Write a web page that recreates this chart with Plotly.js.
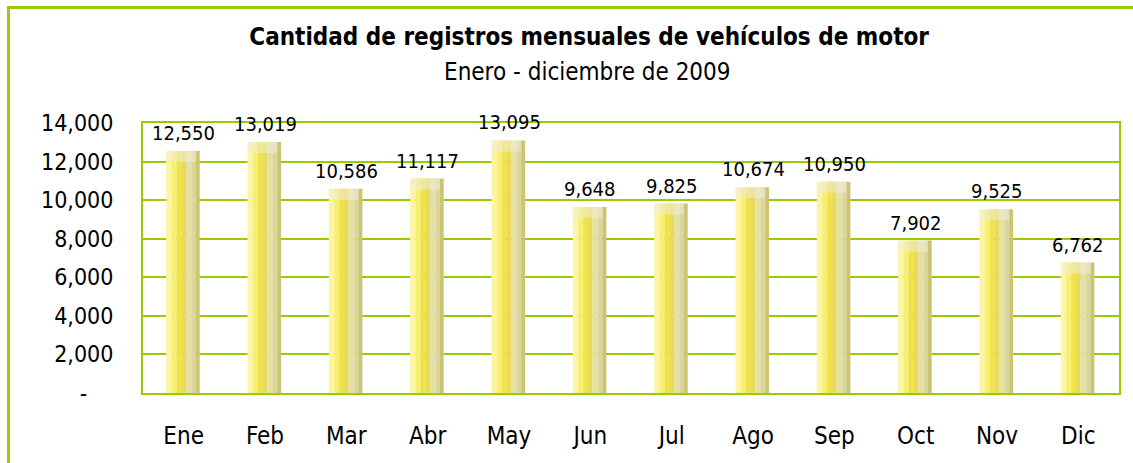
<!DOCTYPE html>
<html>
<head>
<meta charset="utf-8">
<script src="https://cdn.plot.ly/plotly-3.0.1.min.js"></script>
<style>
  html, body { margin: 0; padding: 0; background: #ffffff; }
  #wrap { position: relative; width: 1133px; height: 463px; overflow: hidden; }
  #frame { position: absolute; left: 7px; top: 6px; width: 1200px; height: 600px;
           border-left: 3px solid #99cc00; border-top: 3px solid #99cc00; }
  #chart { position: absolute; left: 0; top: 0; width: 1133px; height: 463px; }
</style>
</head>
<body>
<div id="wrap">
  <div id="frame"></div>
  <div id="chart"></div>
</div>
<script>
// ---- data ----
const months = ["Ene", "Feb", "Mar", "Abr", "May", "Jun", "Jul", "Ago", "Sep", "Oct", "Nov", "Dic"];
const registros = [12550, 13019, 10586, 11117, 13095, 9648, 9825, 10674, 10950, 7902, 9525, 6762];
const yTickVals = [0, 2000, 4000, 6000, 8000, 10000, 12000, 14000];
const yTickText = ["-\u00a0\u00a0\u00a0\u00a0", "2,000", "4,000", "6,000", "8,000", "10,000", "12,000", "14,000"];
const titleText = "Cantidad de registros mensuales de vehículos de motor";
const subtitleText = "Enero - diciembre de 2009";

// ---- style ----
const FONT = "'DejaVu Sans Condensed', 'DejaVu Sans', sans-serif";
const GREEN = "#99cc00";
const BAR_START = -0.215;   // offset of bar from category centre (category units)
const BAR_WIDTH = 0.41;     // full bar width (category units)
const CAP_DEPTH = 570;      // height of the lighter "top face" of each cylinder (axis units)
// vertical strips (fraction of bar width) imitating the cylinder shading
const strips = [
  [0.00, 0.16, "#fcf5a4"],
  [0.16, 0.31, "#f8ee74"],
  [0.31, 0.45, "#f0e34a"],
  [0.45, 0.59, "#e7db58"],
  [0.59, 0.76, "#e5e0a6"],
  [0.76, 0.89, "#dbd69b"],
  [0.89, 1.00, "#cbc473"]
];

const traces = strips.map(s => ({
  type: "bar",
  x: months,
  y: registros,
  offset: BAR_START + s[0] * BAR_WIDTH,
  width: (s[1] - s[0]) * BAR_WIDTH + 0.002,
  marker: { color: s[2], line: { width: 0 } },
  hoverinfo: "skip",
  showlegend: false
}));

// lighter top face of each cylinder
traces.push({
  type: "bar",
  x: months,
  y: registros.map(() => -CAP_DEPTH),
  base: registros,
  offset: BAR_START,
  width: 0.89 * BAR_WIDTH,
  marker: { color: "rgba(238,236,215,0.55)", line: { width: 0 } },
  hoverinfo: "skip",
  showlegend: false
});

const labelAnnotations = months.map((m, i) => ({
  x: m,
  y: registros[i],
  xref: "x", yref: "y",
  text: registros[i].toLocaleString("en-US"),
  showarrow: false,
  xanchor: "center", yanchor: "bottom",
  yshift: 4,
  font: { family: FONT, size: 20, color: "#000000" }
}));

const layout = {
  width: 1133,
  height: 463,
  margin: { l: 143, r: 14, t: 123, b: 70 },
  paper_bgcolor: "rgba(0,0,0,0)",
  plot_bgcolor: "#ffffff",
  barmode: "overlay",
  font: { family: FONT, color: "#000000" },
  title: {
    text: "<b>" + titleText + "</b>",
    font: { family: FONT, size: 24, color: "#000000" },
    x: 0.52, xref: "container", xanchor: "center",
    y: 1 - 37 / 463, yref: "container", yanchor: "middle"
  },
  annotations: [{
    text: subtitleText,
    xref: "paper", yref: "paper",
    x: 0.455, y: 1 + (123 - 72) / 270,
    xanchor: "center", yanchor: "middle",
    showarrow: false,
    font: { family: FONT, size: 24, color: "#000000" }
  }].concat(labelAnnotations),
  xaxis: {
    type: "category",
    range: [-0.5, 11.5],
    showline: true, mirror: true, linecolor: GREEN, linewidth: 2,
    showgrid: false, ticks: "",
    tickfont: { family: FONT, size: 24, color: "#000000" },
    ticklabelstandoff: 20,
    fixedrange: true
  },
  yaxis: {
    range: [0, 14000],
    tickvals: yTickVals,
    ticktext: yTickText,
    showline: true, mirror: true, linecolor: GREEN, linewidth: 2,
    showgrid: true, gridcolor: GREEN, gridwidth: 2,
    zeroline: false, ticks: "",
    tickfont: { family: FONT, size: 23, color: "#000000" },
    ticklabelstandoff: 23,
    fixedrange: true
  }
};

Plotly.newPlot("chart", traces, layout, { displayModeBar: false, staticPlot: true });
</script>
</body>
</html>
